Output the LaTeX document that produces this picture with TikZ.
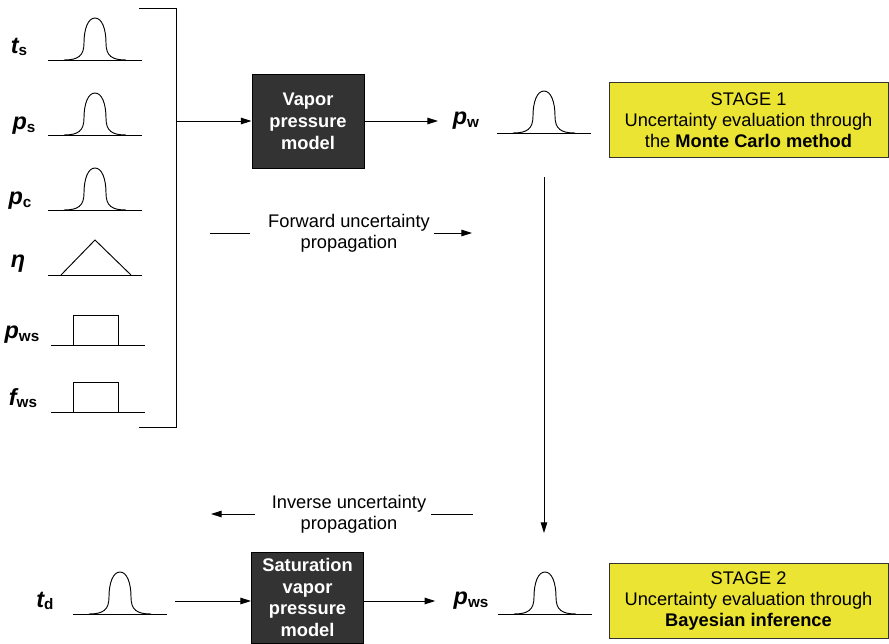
\documentclass[tikz,border=0pt]{standalone}
\usepackage{fontspec}
\setmainfont{Liberation Sans}
\usetikzlibrary{arrows.meta}

\definecolor{modelgray}{RGB}{51,51,51}
\definecolor{stageyellow}{RGB}{236,228,50}

% bold italic symbol with an upright bold subscript
\newcommand{\varlab}[2]{{\fontsize{20}{20}\selectfont\bfseries\itshape #1}\raisebox{-2pt}{\fontsize{13}{13}\selectfont\bfseries #2}}

\tikzset{
    bell/.pic={
        \draw (-47,0) -- (47,0);
        \draw (-31,0) .. controls (-17,0) and (-11,-4) .. (-11,-17)
            .. controls (-11,-31) and (-7,-42) .. (0,-42)
            .. controls (7,-42) and (11,-31) .. (11,-17)
            .. controls (11,-4) and (17,0) .. (31,0);
    },
    tri/.pic={
        \draw (-47,0) -- (47,0);
        \draw (-34,0) -- (0,-35) -- (36,0);
    },
    flat/.pic={
        \draw (-45,0) -- (49,0);
        \draw (-23,0) -- (-23,-30) -- (22,-30) -- (22,0);
    }
}

\begin{document}
\begin{tikzpicture}[
    x=0.03cm, y=-0.03cm, line width=0.8pt,
    every node/.style={font=\fontsize{15.6}{18}\selectfont},
    model/.style={draw=black, fill=modelgray, text=white, inner sep=0pt, minimum width=3.36cm, align=center, font=\fontsize{15.6}{18.7}\selectfont\bfseries},
    stage/.style={draw=black!80, fill=stageyellow, inner sep=0pt, minimum width=8.37cm, minimum height=2.25cm, align=center},
    arrow/.style={-{Triangle[length=9pt,width=5.5pt]}}
]
    \useasboundingbox (0,0) rectangle (889,644);

    % input quantities
    \node (ts) at (19,47) {\varlab{t}{s}};
    \node (ps) at (24,126) {\varlab{p}{s}};
    \node (pc) at (20,201) {\varlab{p}{c}};
    \node (eta) at (18,264) {\varlab{η}{}};
    \node (pwsin) at (22,335) {\varlab{p}{ws}};
    \node (fws) at (23,398) {\varlab{f}{ws}};

    \pic at (95,60) {bell};
    \pic at (95,135) {bell};
    \pic at (95,210) {bell};
    \pic at (95,275) {tri};
    \pic at (96,345) {flat};
    \pic at (96,412) {flat};

    \draw (139,8) -- (176,8) -- (176,427) -- (139,427);
    \coordinate (brk) at (176,121);

    % stage 1
    \node[model, minimum height=2.82cm] (vpm) at (308,121) {Vapor\\pressure\\model};
    \node (pw) at (466,121) {\varlab{p}{w}};
    \pic at (544,133) {bell};
    \node[stage] (st1) at (748.5,120) {STAGE 1\\Uncertainty evaluation through\\the \textbf{Monte Carlo method}};

    \draw[arrow] (brk) -- (vpm);
    \draw[arrow, shorten >=9pt] (vpm) -- (pw);

    \node[align=center] (fwd) at (349,233) {Forward uncertainty\\propagation};
    \coordinate (fwdin) at (210,233);
    \coordinate (fwdout) at (472,233);
    \draw[shorten >=12pt] (fwdin) -- (fwd);
    \draw[arrow] (fwd) -- (fwdout);

    \coordinate (down1) at (544,177);
    \coordinate (down2) at (544,533);
    \draw[arrow] (down1) -- (down2);

    % stage 2
    \node[align=center] (inv) at (349,514) {Inverse uncertainty\\propagation};
    \coordinate (invin) at (473,514);
    \coordinate (invout) at (211,514);
    \draw (invin) -- (inv);
    \draw[arrow, shorten <=11pt] (inv) -- (invout);

    \node (td) at (45,601) {\varlab{t}{d}};
    \pic at (120,614) {bell};
    \coordinate (tdout) at (175,601);
    \node[model, minimum height=2.73cm] (svpm) at (307.5,597.5) {Saturation\\vapor\\pressure\\model};
    \node (pws) at (471,601) {\varlab{p}{ws}};
    \pic at (545,614) {bell};
    \node[stage] (st2) at (748.5,601) {STAGE 2\\Uncertainty evaluation through\\\textbf{Bayesian inference}};

    \draw[arrow] (tdout) -- (tdout -| svpm.west);
    \draw[arrow, shorten >=12pt] (svpm.east |- pws) -- (pws);
\end{tikzpicture}
\end{document}
